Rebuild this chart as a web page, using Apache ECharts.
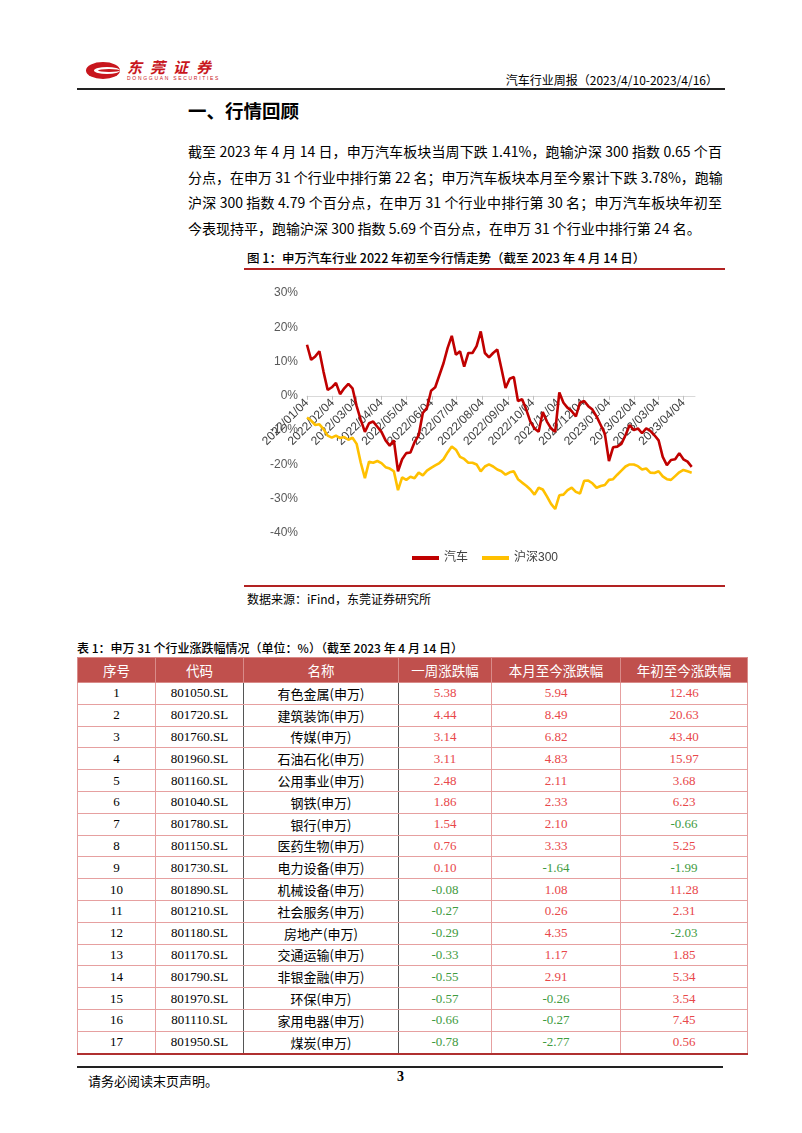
<!DOCTYPE html>
<html><head><meta charset="utf-8">
<script src="https://cdn.jsdelivr.net/npm/echarts@6.0.0/dist/echarts.min.js"></script>
<style>
body{margin:0;width:802px;height:1133px;position:relative;background:#fff;font-family:"Noto Sans CJK SC",sans-serif;overflow:hidden;color:#000}
.abs{position:absolute}
.para div{height:25.5px;line-height:25.5px;text-align:justify;text-align-last:justify;white-space:nowrap}
.para div.last{text-align-last:left}
table{border-collapse:collapse;table-layout:fixed}
td,th{padding:0;text-align:center;font-weight:normal}
th{background:#c0504d;color:#fff;font-size:13.5px;height:24px;border:1px solid #d98b89}
td{height:20.8px;font-size:13px;border:1px solid #e6a0a0;font-family:"Liberation Serif","Noto Sans CJK SC",serif}
td.nm{font-family:"Noto Sans CJK SC",sans-serif;font-size:13px}
td.dk{border-left:1.5px solid #555;border-right:1.5px solid #555}
td.pos{color:#e8474a}
td.neg{color:#3f9b3f}
</style></head><body>

<!-- logo -->
<div class="abs" style="left:86px;top:62px;width:34px;height:17px;">
  <div class="abs" style="left:0;top:0;width:34px;height:17px;border-radius:50%;background:#c8161d"></div>
  <div class="abs" style="left:8px;top:5px;width:26px;height:7px;border-radius:50%;background:#fff"></div>
  <div class="abs" style="left:12px;top:7px;width:22px;height:3px;border-radius:50%;background:#c8161d"></div>
</div>
<div class="abs" style="left:127px;top:58px;font-size:15px;font-weight:bold;color:#c8161d;letter-spacing:8px;font-style:italic;line-height:17px">东莞证券</div>
<div class="abs" style="left:127px;top:76px;font-size:5px;color:#c8161d;letter-spacing:1.7px;line-height:5px;font-family:'Liberation Sans'">DONGGUAN SECURITIES</div>
<div class="abs" style="right:84px;top:72px;font-size:12px;line-height:16px">汽车行业周报（2023/4/10-2023/4/16）</div>
<div class="abs" style="left:77px;top:88px;width:648px;height:1.5px;background:#222"></div>

<div class="abs" style="left:188px;top:97px;font-size:18.5px;font-weight:bold;line-height:26px">一、行情回顾</div>
<div class="abs para" style="left:188px;top:139px;width:534px;font-size:14px">
<div>截至 2023 年 4 月 14 日，申万汽车板块当周下跌 1.41%，跑输沪深 300 指数 0.65 个百</div>
<div>分点，在申万 31 个行业中排行第 22 名；申万汽车板块本月至今累计下跌 3.78%，跑输</div>
<div>沪深 300 指数 4.79 个百分点，在申万 31 个行业中排行第 30 名；申万汽车板块年初至</div>
<div class="last">今表现持平，跑输沪深 300 指数 5.69 个百分点，在申万 31 个行业中排行第 24 名。</div>
</div>

<div class="abs" style="left:247px;top:249px;font-size:12.5px;line-height:18px;font-weight:500">图 1：申万汽车行业 2022 年初至今行情走势（截至 2023 年 4 月 14 日）</div>
<div class="abs" style="left:244px;top:268px;width:481px;height:1.5px;background:#b22222"></div>
<div id="chart" class="abs" style="left:240px;top:275px;width:490px;height:308px"></div>
<div class="abs" style="left:244px;top:585px;width:481px;height:1.5px;background:#b22222"></div>
<div class="abs" style="left:247px;top:590px;font-size:12px;line-height:17px">数据来源：iFind，东莞证券研究所</div>

<div class="abs" style="left:77px;top:639px;font-size:12px;line-height:17px;font-weight:500">表 1：申万 31 个行业涨跌幅情况（单位：%）（截至 2023 年 4 月 14 日）</div>
<table id="tbl" class="abs" style="left:77px;top:657px;width:670px"></table>

<div class="abs" style="left:77px;top:1066px;width:646px;height:1.5px;background:#222"></div>
<div class="abs" style="left:88px;top:1072px;font-size:13px;line-height:18px">请务必阅读末页声明。</div>
<div class="abs" style="left:397px;top:1068px;font-size:14px;font-weight:bold;font-family:'Liberation Serif';line-height:18px">3</div>

<script>
// ---------- chart data ----------
const xTickLabels = ['2022/01/04','2022/02/04','2022/03/04','2022/04/04','2022/05/04','2022/06/04','2022/07/04','2022/08/04','2022/09/04','2022/10/04','2022/11/04','2022/12/04','2023/01/04','2023/02/04','2023/03/04','2023/04/04'];
const yMin = -40, yMax = 30, yStep = 10;
const seriesNames = ['汽车','沪深300'];
// sampled every 5 calendar days from 2022/01/04 to 2023/04/14 (%)
const autoVals = [14.9,10.5,11.5,13,7,1.7,2.5,3.8,0.5,2.2,3.5,2.2,-3,-7,-10.5,-8,-7.5,-9,-10.5,-13,-14.5,-13,-22,-18.5,-16.7,-16.5,-13.5,-11.5,-5,-3.5,1.5,2.5,6,9.5,14,17.5,12,13,8.5,12.5,12.5,14.5,18.8,12.5,11.2,12.5,13.5,8,2.3,5,5.5,-1.5,-1,-4,-7.5,-9.5,-10.5,-4.7,-7.5,-9.5,-10.5,1,-2,-3.5,-4.5,-6,-2,-1.5,-3,-4,-6,-8.5,-11,-19,-15,-14.8,-14,-11.5,-8.5,-10,-9.5,-10.9,-9.5,-10.2,-11.5,-13,-17.8,-20.2,-18.7,-18.5,-16.7,-18.5,-19.2,-20.7];
const hs300Vals = [-6.3,-7.2,-8.5,-8.3,-9.7,-11.6,-12.2,-11.6,-12.3,-12,-12.8,-12.2,-14,-19.5,-24,-19.2,-19.5,-19,-19.6,-20.8,-21.2,-22,-27.5,-23.8,-24.5,-23.6,-24,-22.4,-23.2,-21.8,-21,-20.3,-19.6,-18.5,-16.5,-14.8,-15.7,-17.8,-18.4,-19.5,-19.5,-20,-22,-20.6,-20,-20.6,-21.5,-22,-23,-22.3,-22,-24.3,-25.3,-26.2,-27.3,-28.8,-26.8,-27.3,-29.3,-31.5,-33,-29,-28.8,-27.5,-26.8,-28,-28.5,-24.8,-24.7,-25.5,-26.8,-26.3,-26,-24.5,-24.3,-23,-21.8,-20.6,-20,-20,-20.5,-21.5,-21.2,-22.4,-22.5,-22,-23.5,-24.3,-24.5,-23.4,-22.3,-21.6,-22,-22.4];

// ---------- table data ----------
const rankNo = [1,2,3,4,5,6,7,8,9,10,11,12,13,14,15,16,17];
const codes = ['801050.SL','801720.SL','801760.SL','801960.SL','801160.SL','801040.SL','801780.SL','801150.SL','801730.SL','801890.SL','801210.SL','801180.SL','801170.SL','801790.SL','801970.SL','801110.SL','801950.SL'];
const names = ['有色金属(申万)','建筑装饰(申万)','传媒(申万)','石油石化(申万)','公用事业(申万)','钢铁(申万)','银行(申万)','医药生物(申万)','电力设备(申万)','机械设备(申万)','社会服务(申万)','房地产(申万)','交通运输(申万)','非银金融(申万)','环保(申万)','家用电器(申万)','煤炭(申万)'];
const weekChg = [5.38,4.44,3.14,3.11,2.48,1.86,1.54,0.76,0.10,-0.08,-0.27,-0.29,-0.33,-0.55,-0.57,-0.66,-0.78];
const monthChg = [5.94,8.49,6.82,4.83,2.11,2.33,2.10,3.33,-1.64,1.08,0.26,4.35,1.17,2.91,-0.26,-0.27,-2.77];
const ytdChg = [12.46,20.63,43.40,15.97,3.68,6.23,-0.66,5.25,-1.99,11.28,2.31,-2.03,1.85,5.34,3.54,7.45,0.56];
const headers = ['序号','代码','名称','一周涨跌幅','本月至今涨跌幅','年初至今涨跌幅'];
const colWidths = [78,88,155,93,129,127];

// build table
(function(){
  const t = document.getElementById('tbl');
  let h = '<colgroup>' + colWidths.map(w=>'<col style="width:'+w+'px">').join('') + '</colgroup>';
  h += '<tr>' + headers.map(x=>'<th>'+x+'</th>').join('') + '</tr>';
  const f = v => v.toFixed(2);
  const cls = v => v<0 ? 'neg' : 'pos';
  for(let i=0;i<rankNo.length;i++){
    h += '<tr><td>'+rankNo[i]+'</td><td class="dk">'+codes[i]+'</td><td class="nm dk">'+names[i]+'</td>'+
      '<td class="'+cls(weekChg[i])+'">'+f(weekChg[i])+'</td>'+
      '<td class="'+cls(monthChg[i])+'">'+f(monthChg[i])+'</td>'+
      '<td class="'+cls(ytdChg[i])+'">'+f(ytdChg[i])+'</td></tr>';
  }
  t.innerHTML = h;
  const rows = t.querySelectorAll('tr');
  rows[rows.length-1].querySelectorAll('td').forEach(td=>td.style.borderBottom='2.5px solid #b03030');
})();

// build chart
const pad = n => (n<10?'0':'')+n;
const cats = [];
for(let d=0; d<470; d++){ const dt = new Date(2022,0,4+d); cats.push(dt.getFullYear()+'/'+pad(dt.getMonth()+1)+'/'+pad(dt.getDate())); }
const sampleStep = 5;
const autoData = autoVals.map((v,i)=>[cats[i*sampleStep], v]);
const hsData = hs300Vals.map((v,i)=>[cats[i*sampleStep], v]);
const showTick = (idx, val) => xTickLabels.indexOf(val) >= 0;
const gridH = 240;
const zeroOffset = -(0 - yMin) / (yMax - yMin) * gridH;

const chart = echarts.init(document.getElementById('chart'));
chart.setOption({
  animation:false,
  grid:{left:67, top:18, width:388, height:gridH},
  legend:{
    bottom:14, left:'center', itemWidth:27, itemHeight:4, itemGap:14, icon:'rect',
    textStyle:{fontFamily:'Liberation Sans, Noto Sans CJK SC', fontSize:12, color:'#404040'},
    data:seriesNames
  },
  xAxis:{
    type:'category', data:cats, boundaryGap:false, offset:zeroOffset,
    axisLine:{onZero:false, lineStyle:{color:'#d9d9d9', width:1}},
    axisTick:{show:true, interval:showTick, length:4, lineStyle:{color:'#bfbfbf'}},
    axisLabel:{interval:showTick, rotate:45, margin:5, fontFamily:'Liberation Sans', fontSize:12, color:'#404040'},
    splitLine:{show:false}
  },
  yAxis:{
    type:'value', min:yMin, max:yMax, interval:yStep,
    axisLine:{show:false}, axisTick:{show:false}, splitLine:{show:false},
    axisLabel:{formatter:'{value}%', fontFamily:'Liberation Sans', fontSize:12, color:'#595959', margin:9}
  },
  series:[
    {name:seriesNames[0], type:'line', data:autoData, showSymbol:false, lineStyle:{color:'#c00000', width:2.6}, itemStyle:{color:'#c00000'}, z:3},
    {name:seriesNames[1], type:'line', data:hsData, showSymbol:false, lineStyle:{color:'#ffc000', width:2.6}, itemStyle:{color:'#ffc000'}, z:2}
  ]
});
</script>
</body></html>
